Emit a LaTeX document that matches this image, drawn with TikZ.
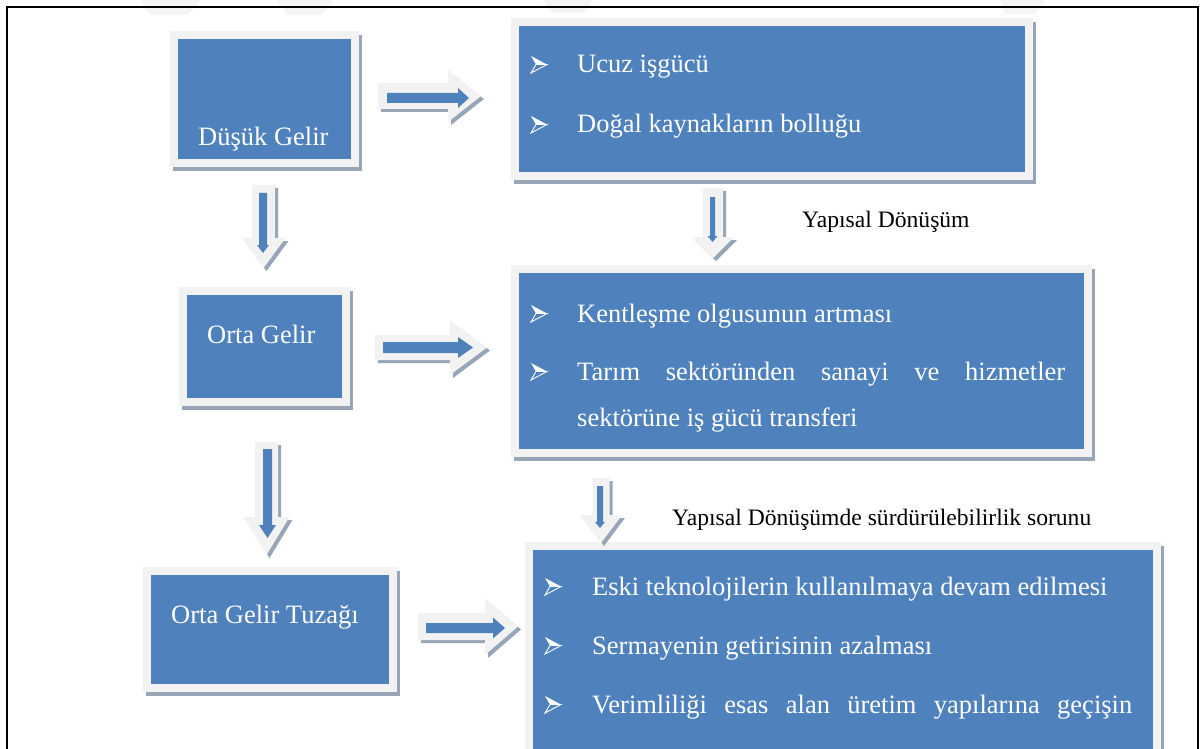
\documentclass[tikz,border=0pt]{standalone}
\usepackage{fontspec}
\setmainfont{Liberation Serif}
\definecolor{boxblue}{HTML}{4F81BD}
\definecolor{rim}{HTML}{F2F2F2}
\definecolor{shd}{HTML}{98A5B6}
\definecolor{wm}{HTML}{F5F5F5}
\tikzset{
  boxtext/.style={text=white, font=\fontsize{26.5}{30}\selectfont, inner sep=0pt, anchor=base west},
  lbl/.style={text=black, font=\fontsize{23.6}{28}\selectfont, inner sep=0pt, anchor=base west},
  innerbox/.style={fill=boxblue, inner sep=0pt, draw=none},
  frame/.style={draw=black, line width=2.2pt},
}
% outer box: name, x1, y1, x2, y2
\newcommand\drawbox[5]{%
  \fill[shd] ({#2+3},{#3+4}) rectangle ({#4+3},{#5+4});
  \fill[rim] (#2,#3) rectangle (#4,#5);
  \node[innerbox, minimum width={#4-#2-16}, minimum height={#5-#3-16}] (#1) at ({(#2+#4)/2},{(#3+#5)/2}) {};
}
% right block arrow: [opts] tail, headbase, tip, cy, shaft half, head half
\newcommand\rarrow[7][]{%
  \fill[#1] (#2,{#5-#6}) -- (#3,{#5-#6}) -- (#3,{#5-#7}) -- (#4,#5) -- (#3,{#5+#7}) -- (#3,{#5+#6}) -- (#2,{#5+#6}) -- cycle;
}
% down block arrow: [opts] cx, top, headbase, tip, shaft half, head half
\newcommand\darrow[7][]{%
  \fill[#1] ({#2-#6},#3) -- ({#2+#6},#3) -- ({#2+#6},#4) -- ({#2+#7},#4) -- (#2,#5) -- ({#2-#7},#4) -- ({#2-#6},#4) -- cycle;
}
% bullet: x, baseline
\newcommand\bul[2]{%
  \fill[white] (#1,{#2-17}) -- ({#1+16},{#2-8.5}) -- ({#1+5},{#2-8.5}) -- cycle;
  \draw[white, line width=0.9pt, line join=miter] ({#1+5},{#2-8.5}) -- ({#1+16},{#2-8.5}) -- (#1,{#2}) -- cycle;
}
\begin{document}
\begin{tikzpicture}[x=1pt, y=-1pt]
\useasboundingbox (0,0) rectangle (1200,749);
\fill[white] (0,0) rectangle (1200,749);
% faint watermark
\fill[wm] (140,0) -- (200,0) -- (188,15) -- (150,15) -- cycle;
\fill[wm] (277,0) -- (333,0) -- (322,15) -- (287,15) -- cycle;
\fill[wm] (543,0) -- (593,0) -- (583,13) -- (552,13) -- cycle;
\fill[wm] (1000,0) -- (1045,0) -- (1035,14) -- (1005,14) -- cycle;
% frame
\draw[frame] (7,760) -- (7,7) -- (1198,7) -- (1198,760);

% boxes
\drawbox{b1}{170}{31}{359}{167}
\drawbox{b2}{511}{18}{1033}{180}
\drawbox{b3}{179}{287}{350}{406}
\drawbox{b4}{511}{265}{1092}{457}
\drawbox{b5}{143}{567}{397}{692}
\drawbox{b6}{525}{542}{1161}{770}

% box texts
\node[boxtext] (t1) at (198,146) {Düşük Gelir};
\node[boxtext] (t3) at (207,343) {Orta Gelir};
\node[boxtext] (t5) at (171,623) {Orta Gelir Tuzağı};

\bul{531}{73}
\node[boxtext] (t21) at (577,73) {Ucuz işgücü};
\bul{531}{133}
\node[boxtext] (t22) at (577,133) {Doğal kaynakların bolluğu};

\bul{531}{322}
\node[boxtext] (t41) at (577,322) {Kentleşme olgusunun artması};
\bul{531}{380}
\node[boxtext] (t42) at (577,380) {\hbox to 488pt{Tarım\hfil sektöründen\hfil sanayi\hfil ve\hfil hizmetler}};
\node[boxtext] (t43) at (577,426) {sektörüne iş gücü transferi};

\bul{545}{595}
\node[boxtext] (t61) at (592,595) {Eski teknolojilerin kullanılmaya devam edilmesi};
\bul{545}{654}
\node[boxtext] (t62) at (592,654) {Sermayenin getirisinin azalması};
\bul{545}{713}
\node[boxtext] (t63) at (592,713) {\hbox to 540pt{Verimliliği\hfil esas\hfil alan\hfil üretim\hfil yapılarına\hfil geçişin}};

% labels
\node[lbl] (l1) at (802,227) {Yapısal Dönüşüm};
\node[lbl] (l2) at (672,525) {Yapısal Dönüşümde sürdürülebilirlik sorunu};

% right arrows
\rarrow[shd, shift={(3,3)}]{378}{448}{481}{96}{13}{26}
\rarrow[rim]{378}{448}{481}{96}{13}{26}
\rarrow[boxblue]{387}{458}{469}{98}{5}{10}

\rarrow[shd, shift={(3,3)}]{375}{450}{487}{347.5}{12.5}{27.5}
\rarrow[rim]{375}{450}{487}{347.5}{12.5}{27.5}
\rarrow[boxblue]{383}{458}{473}{347.5}{5.5}{10.5}

\rarrow[shd, shift={(3,3)}]{418}{485}{518}{626.5}{13.5}{28.5}
\rarrow[rim]{418}{485}{518}{626.5}{13.5}{28.5}
\rarrow[boxblue]{426}{493}{505}{628}{5}{10.5}

% down arrows
\darrow[shd, shift={(3,3)}]{263.5}{185}{238}{268}{11.5}{22}
\darrow[rim]{263.5}{185}{238}{268}{11.5}{22}
\darrow[boxblue]{263}{193}{245}{253}{4}{6}

\darrow[shd, shift={(3,3)}]{266.5}{442}{517}{555}{11.5}{23}
\darrow[rim]{266.5}{442}{517}{555}{11.5}{23}
\darrow[boxblue]{267.5}{449}{525}{538}{4.5}{8.5}

\darrow[shd, shift={(3,3)}]{713}{188}{237}{258}{10}{21}
\darrow[rim]{713}{188}{237}{258}{10}{21}
\darrow[boxblue]{712.5}{197}{236}{242}{2.5}{5}

\darrow[shd, shift={(3,3)}]{601}{478}{515}{543}{8.5}{21}
\darrow[rim]{601}{478}{515}{543}{8.5}{21}
\darrow[boxblue]{600}{486}{522}{528}{3}{5}
\end{tikzpicture}
\end{document}
